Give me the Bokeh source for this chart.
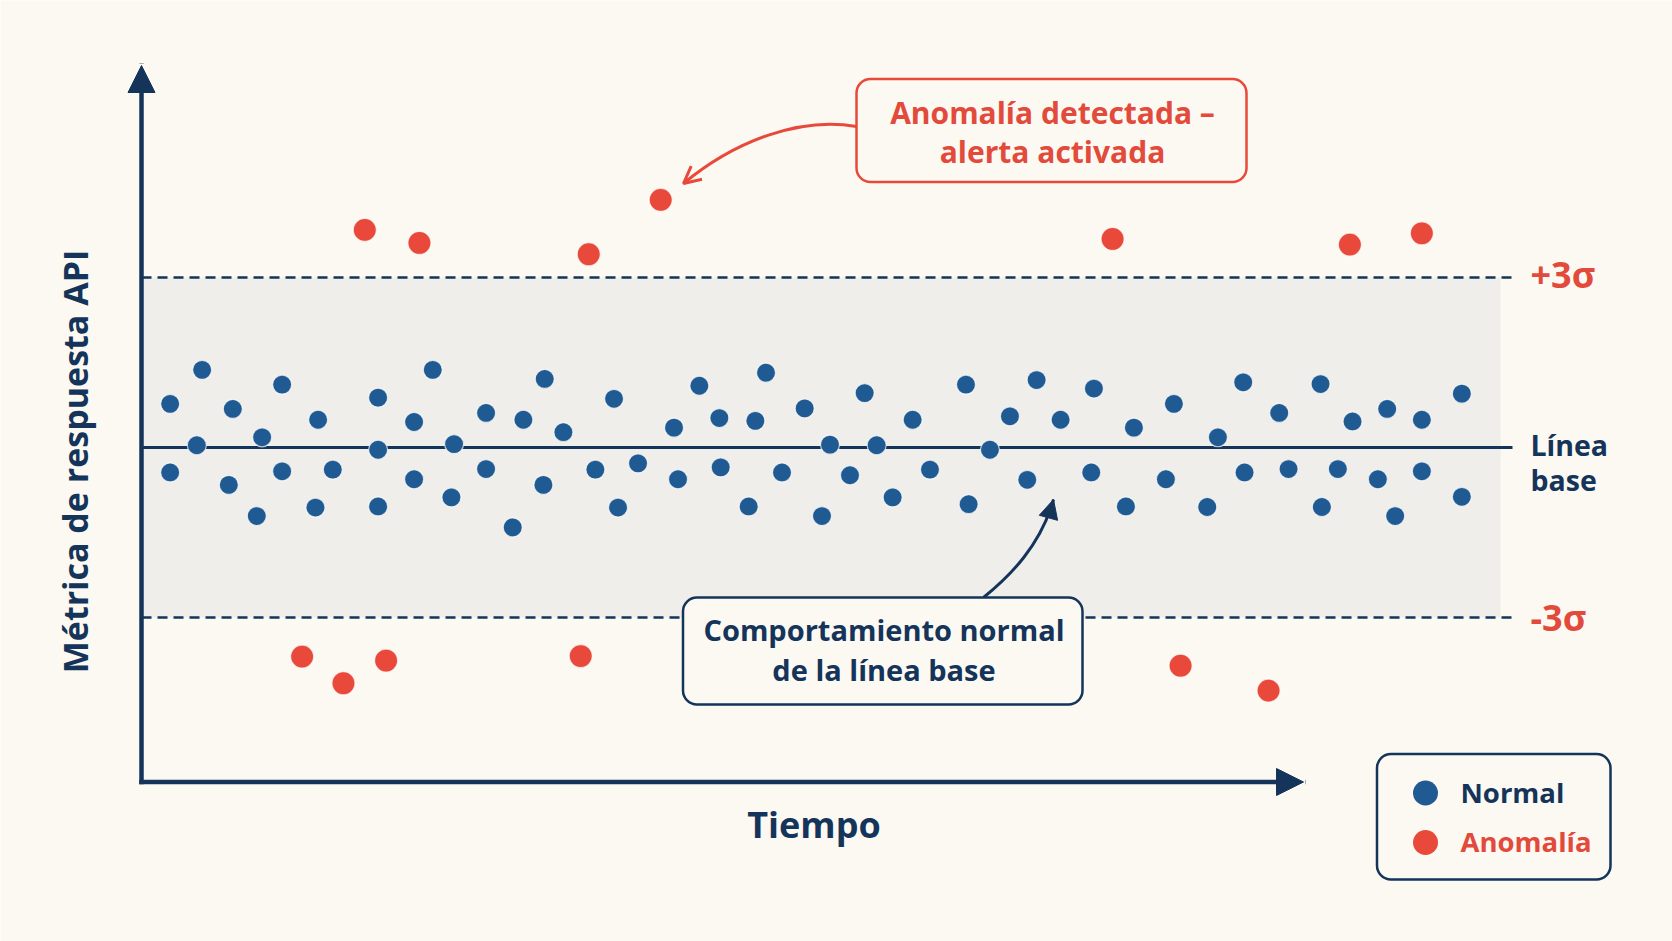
import numpy as np
from bokeh.plotting import figure
from bokeh.models import Range1d, BoxAnnotation, Arrow, NormalHead, OpenHead
from bokeh.core.properties import value
from bokeh.embed import file_html
from bokeh.resources import INLINE

# ---------------- data ----------------
normal_t = [2.3, 2.3, 4.3, 4.7, 6.7, 7.0, 8.8, 9.2, 10.7, 10.7, 13.2, 13.4, 14.5,
            17.9, 17.9, 17.9, 20.6, 20.6, 22.0, 23.4, 23.6, 26.0, 26.0, 28.0, 28.8,
            30.3, 30.4, 31.8, 34.2, 35.6, 35.9, 37.4, 40.1, 40.4, 42.0, 43.5, 43.6,
            45.7, 46.2, 47.0, 48.2, 49.9, 51.2, 51.8, 53.3, 54.4, 55.3, 56.5, 58.0,
            59.3, 62.0, 62.2, 63.8, 65.3, 66.6, 67.3, 69.1, 71.4, 71.6, 74.0, 74.6,
            77.0, 77.6, 80.1, 80.9, 82.8, 82.9, 85.5, 86.2, 88.6, 88.7, 89.9, 91.0,
            92.9, 93.6, 94.2, 96.2, 96.2, 99.2, 99.2]
normal_y = [0.77, -0.44, 0.04, 1.37, -0.66, 0.68, -1.21, 0.18, 1.11, -0.42, -1.06, 0.49, -0.39,
            0.88, -0.04, -1.04, 0.45, -0.56, 1.37, -0.88, 0.06, 0.61, -0.38, -1.41, 0.49,
            -0.66, 1.21, 0.27, -0.39, 0.86, -1.06, -0.28, 0.35, -0.56, 1.09, 0.52, -0.35,
            -1.04, 0.47, 1.32, -0.44, 0.69, -1.21, 0.05, -0.49, 0.96, 0.04, -0.88, 0.49,
            -0.39, 1.11, -1.00, -0.04, 0.55, -0.57, 1.19, 0.49, -0.44, 1.04, -1.04, 0.35,
            -0.56, 0.77, -1.05, 0.18, 1.15, -0.44, 0.61, -0.38, 1.12, -1.05, -0.38, 0.46,
            -0.56, 0.68, -1.21, 0.49, -0.42, 0.95, -0.87]
anomaly_t = [12.2, 15.3, 16.9, 18.5, 21.0, 33.1, 33.7, 39.1, 73.0, 78.1, 84.7, 90.8, 96.2]
anomaly_y = [-3.69, -4.16, 3.84, -3.76, 3.61, -3.68, 3.41, 4.37, 3.68, -3.85, -4.29, 3.58, 3.78]

baseline_value = 0
sigma_levels = [3, -3]
sigma_labels = ["+3σ", "-3σ"]
series_names = ["Normal", "Anomalía"]
x_label = "Tiempo"
y_label = "Métrica de respuesta API"
baseline_label = ["Línea", "base"]
alert_text = ["Anomalía detectada –", "alerta activada"]
normal_text = ["Comportamiento normal", "de la línea base"]

# ---------------- layout (pixel mapping) ----------------
W, H = 1672, 941
T0_PX, PX_PER_T = 139.0, 13.33      # x pixel of t=0, pixels per time unit
B0_PX, PX_PER_S = 447.0, 56.67      # y pixel of baseline, pixels per sigma


def X(px):
    return (px - T0_PX) / PX_PER_T


def Y(py):
    return (B0_PX - py) / PX_PER_S


BG = "#fcf9f2"
BAND = "#efeeea"
NAVY = "#15345a"
BLUE = "#1f5a92"
RED = "#e8493a"
TRED = "#e24a3b"
FONT = value("Open Sans")

p = figure(width=W, height=H, x_range=Range1d(X(0), X(W)), y_range=Range1d(Y(H), Y(0)),
           output_backend="svg", toolbar_location=None,
           x_axis_location=None, y_axis_location=None, min_border=0,
           background_fill_color=BG, border_fill_color=BG, outline_line_color=None)
p.xgrid.grid_line_color = None
p.ygrid.grid_line_color = None

AX_X = X(141)
AX_Y = Y(781.5)
LINE_END = X(1512)

# normal band
band = BoxAnnotation(left=AX_X, right=X(1500), bottom=min(sigma_levels), top=max(sigma_levels),
                     fill_color=BAND, fill_alpha=1.0, line_color=None, level="underlay")
p.add_layout(band)

# sigma lines and baseline
p.segment(x0=[AX_X] * len(sigma_levels), y0=sigma_levels, x1=[LINE_END] * len(sigma_levels),
          y1=sigma_levels, line_color=NAVY, line_width=2.6, line_dash="10 6")
p.segment(x0=[AX_X], y0=[baseline_value], x1=[LINE_END], y1=[baseline_value],
          line_color=NAVY, line_width=3)

# points
p.scatter(normal_t, normal_y, size=19, fill_color=BLUE, line_color="white",
          line_width=1.2, line_alpha=0.7)
p.scatter(anomaly_t, anomaly_y, size=23, fill_color=RED, line_color="white",
          line_width=1.2, line_alpha=0.7)

# axes as arrows
p.add_layout(Arrow(end=NormalHead(size=27, fill_color=NAVY, line_color=NAVY),
                   x_start=AX_X, y_start=AX_Y, x_end=AX_X, y_end=Y(65),
                   line_color=NAVY, line_width=4.5, line_cap="square"))
p.add_layout(Arrow(end=NormalHead(size=27, fill_color=NAVY, line_color=NAVY),
                   x_start=AX_X, y_start=AX_Y, x_end=X(1303), y_end=AX_Y,
                   line_color=NAVY, line_width=4.5, line_cap="square"))


def txt(xs, ys, texts, size, color, align="left", angle=0.0, baseline="alphabetic"):
    r = p.text(x=xs, y=ys, text=texts, text_font=FONT, text_font_style="bold",
               text_font_size=size, text_color=color, text_align=align,
               text_baseline=baseline, angle=angle)
    r.level = "overlay"
    return r


def box(left, right, top, bottom, color):
    p.add_layout(BoxAnnotation(left=X(left), right=X(right), top=Y(top), bottom=Y(bottom),
                               fill_color=BG, fill_alpha=1.0, line_color=color,
                               line_alpha=1.0, line_width=2.5, border_radius=14))


# axis titles
txt([X(813.5)], [Y(824)], [x_label], "36px", NAVY, align="center")
txt([X(74)], [Y(461)], [y_label], "34px", NAVY, align="center", angle=np.pi / 2)

# sigma labels / baseline label
txt([X(1530)] * 2, [Y(274), Y(617)], sigma_labels, "36px", TRED)
txt([X(1530)] * 2, [Y(444), Y(479.7)], baseline_label, "28.5px", NAVY)

# alert annotation box + curved arrow
box(856, 1246, 78.5, 181.5, RED)
txt([X(1052)] * 2, [Y(111.7), Y(150.7)], alert_text, "30px", TRED, align="center")
p.bezier(x0=[X(856)], y0=[Y(126)], x1=[X(683)], y1=[Y(183)],
         cx0=[X(800)], cy0=[Y(116)], cx1=[X(735)], cy1=[Y(140)],
         line_color=RED, line_width=3)
p.add_layout(Arrow(end=OpenHead(size=17, line_color=RED, line_width=3),
                   x_start=X(688.2), y_start=Y(178.7), x_end=X(683), y_end=Y(183),
                   line_color=RED, line_width=3))

# normal-behaviour annotation box + curved arrow
p.bezier(x0=[X(983)], y0=[Y(597)], x1=[X(1053)], y1=[Y(499)],
         cx0=[X(1010)], cy0=[Y(575)], cx1=[X(1040)], cy1=[Y(545)],
         line_color=NAVY, line_width=3)
p.add_layout(Arrow(end=NormalHead(size=19, fill_color=NAVY, line_color=NAVY),
                   x_start=X(1051.7), y_start=Y(503.7), x_end=X(1053), y_end=Y(499),
                   line_color=NAVY, line_width=3))
box(682.5, 1082, 597, 704, NAVY)
txt([X(883.5)] * 2, [Y(628.7), Y(668.7)], normal_text, "29px", NAVY, align="center")

# legend
box(1376.5, 1610, 753.5, 879, NAVY)
leg = p.scatter([X(1425)] * 2, [Y(792.5), Y(842)], size=25, fill_color=[BLUE, RED],
                line_color=None)
leg.level = "overlay"
txt([X(1460)], [Y(792.3)], [series_names[0]], "27.5px", NAVY)
txt([X(1460)], [Y(840.7)], [series_names[1]], "27.5px", TRED)

open("out.html", "w").write(file_html(p, INLINE))
